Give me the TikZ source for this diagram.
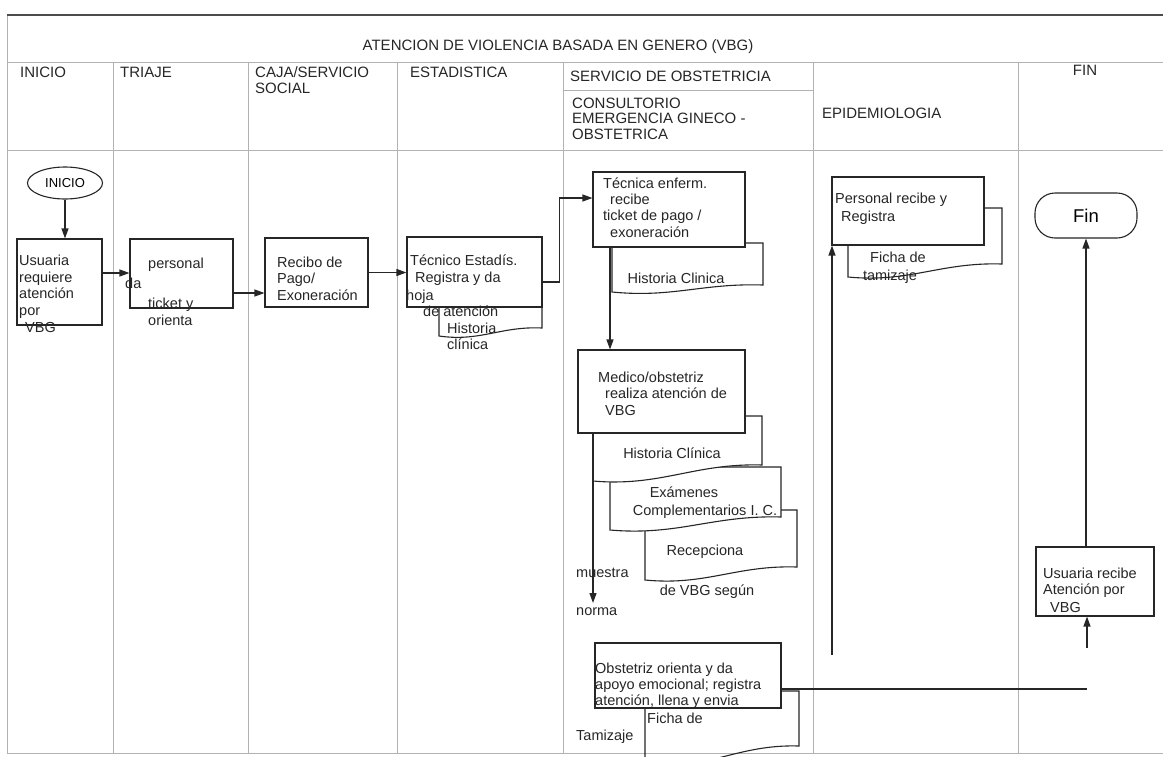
\documentclass[tikz,border=0pt]{standalone}
\usepackage{fontspec}
\setmainfont{Liberation Sans}
\usetikzlibrary{arrows.meta,shapes.geometric}
\newcommand\docpath[6]{%
  \pgfmathsetmacro\dw{#3-#2}%
  \draw[#1] (#2,#4) -- (#2,#5) .. controls ({#2+0.4*\dw},{#5+6}) and ({#2+0.6*\dw},{#6-2}) .. (#3,#6) -- (#3,#4) -- cycle;}
\tikzset{
  frame/.style={draw=gray!60, line width=0.9pt},
  topline/.style={draw=black!70, line width=1.4pt},
  box/.style={draw=black!85, line width=1.1pt, fill=white, rectangle, inner sep=0pt},
  docln/.style={draw=black!85, line width=1.1pt, fill=white},
  docopen/.style={draw=black!85, line width=1.1pt},
  conn/.style={draw=black!85, line width=1.2pt},
  arr/.style={conn, -{Triangle[length=10pt,width=7pt]}},
  bt/.style={font=\fontsize{14.5}{16.7}\selectfont, text=black!85, inner sep=0pt, anchor=base west},
  ht/.style={font=\fontsize{15}{18}\selectfont, text=black!85, inner sep=0pt, anchor=base west},
}
\begin{document}
\begin{tikzpicture}[x=1pt,y=-1pt]
\useasboundingbox (0,0) rectangle (1163,756);
\begin{scope}
\clip (0,0) rectangle (1163,756);
% frame and lanes
\draw[frame] (7,15) -- (7,753);
\draw[topline] (7,15) -- (1163,15);
\draw[frame] (7,62) -- (1163,62);
\draw[frame] (7,150) -- (1163,150);
\draw[frame] (7,753) -- (1163,753);
\foreach \x in {113,248,397,563,813,1018} \draw[frame] (\x,62) -- (\x,753);
\draw[frame] (563,90) -- (813,90);
% header
\node[ht, anchor=base] (title) at (558,50) {ATENCION DE VIOLENCIA BASADA EN GENERO (VBG)};
\node[ht] (hIni) at (20,77) {INICIO};
\node[ht] (hTri) at (120,77) {TRIAJE};
\node[ht] (hCaja) at (255,77) {CAJA/SERVICIO};
\node[ht] (hCajb) at (255,93) {SOCIAL};
\node[ht] (hEst) at (410,77) {ESTADISTICA};
\node[ht] (hSer) at (570,81) {SERVICIO DE OBSTETRICIA};
\node[ht] (hCona) at (572,108) {CONSULTORIO};
\node[ht] (hConb) at (572,123.5) {EMERGENCIA GINECO -};
\node[ht] (hConc) at (572,139) {OBSTETRICA};
\node[ht] (hEpi) at (822,118) {EPIDEMIOLOGIA};
\node[ht, anchor=base] (hFin) at (1085,75) {FIN};
% documents (behind boxes)
\docpath{docln}{439}{542}{300}{336}{328}
\docpath{docln}{612}{763}{243}{292}{285}
\docpath{docln}{645}{797}{510}{580}{567}
\docpath{docln}{610}{781}{467}{530}{517}
\docpath{docln}{593}{762}{416}{481}{465}
\docpath{docln}{848}{1002}{208}{277}{264}
\docpath{docopen}{645}{799}{691}{765}{746}
% boxes
\node[ellipse, draw=black!85, line width=1.1pt, fill=white, minimum width=75pt, minimum height=32pt, inner sep=0pt, font=\fontsize{13}{15}\selectfont] (ini) at (65,183) {INICIO};
\node[box, minimum width=85pt, minimum height=86pt] (usu) at (59.5,282) {};
\node[box, minimum width=103pt, minimum height=69pt] (tri) at (181.5,273.5) {};
\node[box, minimum width=103pt, minimum height=69pt] (rec) at (316.5,272.5) {};
\node[box, minimum width=135pt, minimum height=70pt] (tec) at (474.5,272) {};
\node[box, minimum width=152pt, minimum height=75pt] (tenf) at (669,209.5) {};
\node[box, minimum width=167pt, minimum height=83pt] (med) at (661.5,391.5) {};
\node[box, minimum width=186pt, minimum height=65pt] (obst) at (688,675.5) {};
\node[box, minimum width=152pt, minimum height=68pt] (pers) at (908,211) {};
\node[box, rounded corners=20pt, minimum width=102pt, minimum height=45pt, font=\fontsize{18.5}{20}\selectfont] (fin) at (1086,215.5) {Fin};
\node[box, minimum width=118pt, minimum height=69pt] (ur) at (1095,581.5) {};
% connectors
\coordinate (cA) at (610,0);
\coordinate (mend) at (593,603);
\coordinate (oend) at (1087,689);
\coordinate (ustart) at (1087,648);
\coordinate (pstart) at (832,655);
\draw[arr] (ini) -- (ini |- usu.north);
\draw[arr] ([yshift=9pt]usu.east) -- ([yshift=9pt]usu.east -| tri.west);
\draw[arr] ([yshift=-19.5pt]tri.east) -- ([yshift=-19.5pt]tri.east -| rec.west);
\draw[arr] (rec.east) -- (rec.east -| tec.west);
\draw[arr] ([yshift=-10pt]tec.east) -- ++(17,0) |- ([yshift=11.5pt]tenf.west);
\draw[arr] (tenf.south -| cA) -- (med.north -| cA);
\draw[arr] (med.south -| mend) -- (mend);
\draw[conn] (obst.east |- oend) -- (oend);
\draw[arr] (ustart) -- (ur.south -| ustart);
\draw[arr] (ur.north -| fin.south) -- (fin.south);
\draw[arr] (pstart) -- (pers.south -| pstart);
% texts
\node[bt] (u1) at (19,265) {Usuaria};
\node[bt] (u2) at (19,282) {requiere};
\node[bt] (u3) at (19,298) {atención};
\node[bt] (u4) at (19,315) {por};
\node[bt] (u5) at (25,332) {VBG};
\node[bt] (t1) at (148,268) {personal};
\node[bt] (t2) at (125,288) {da};
\node[bt] (t3) at (148,308) {ticket y};
\node[bt] (t4) at (148,325) {orienta};
\node[bt] (r1) at (277,267) {Recibo de};
\node[bt] (r2) at (277,283.5) {Pago/};
\node[bt] (r3) at (277,300) {Exoneración};
\node[bt] (e1) at (410,265) {Técnico Estadís.};
\node[bt] (e2) at (415,282) {Registra y da};
\node[bt] (e3) at (406,300) {hoja};
\node[bt] (e4) at (423,316) {de atención};
\node[bt] (e5) at (447,333) {Historia};
\node[bt] (e6) at (447,349) {clínica};
\node[bt] (f1) at (603,188) {Técnica enferm.};
\node[bt] (f2) at (610,204) {recibe};
\node[bt] (f3) at (603,220) {ticket de pago /};
\node[bt] (f4) at (610,237) {exoneración};
\node[bt, anchor=base] (f5) at (676,283) {Historia Clinica};
\node[bt] (m1) at (598,382) {Medico/obstetriz};
\node[bt] (m2) at (605,398) {realiza atención de};
\node[bt] (m3) at (605,415) {VBG};
\node[bt, anchor=base] (m4) at (672,458) {Historia Clínica};
\node[bt, anchor=base] (m5) at (684,497) {Exámenes};
\node[bt, anchor=base] (m6) at (705,515) {Complementarios I. C.};
\node[bt, anchor=base] (m7) at (705,555) {Recepciona};
\node[bt, anchor=base] (m8) at (707,595) {de VBG según};
\node[bt] (m9) at (576,577) {muestra};
\node[bt] (m10) at (576,615) {norma};
\node[bt] (o1) at (595,673) {Obstetriz orienta y da};
\node[bt] (o2) at (595,689) {apoyo emocional; registra};
\node[bt] (o3) at (595,705) {atención, llena y envia};
\node[bt] (o4) at (647,723) {Ficha de};
\node[bt] (o5) at (576,740) {Tamizaje};
\node[bt] (p1) at (835,203) {Personal recibe y};
\node[bt] (p2) at (841,221) {Registra};
\node[bt, anchor=base] (p3) at (898,262) {Ficha de};
\node[bt, anchor=base] (p4) at (890,280) {tamizaje};
\node[bt] (v1) at (1043,578) {Usuaria recibe};
\node[bt] (v2) at (1043,594) {Atención por};
\node[bt] (v3) at (1050,612) {VBG};
\end{scope}
\end{tikzpicture}
\end{document}
